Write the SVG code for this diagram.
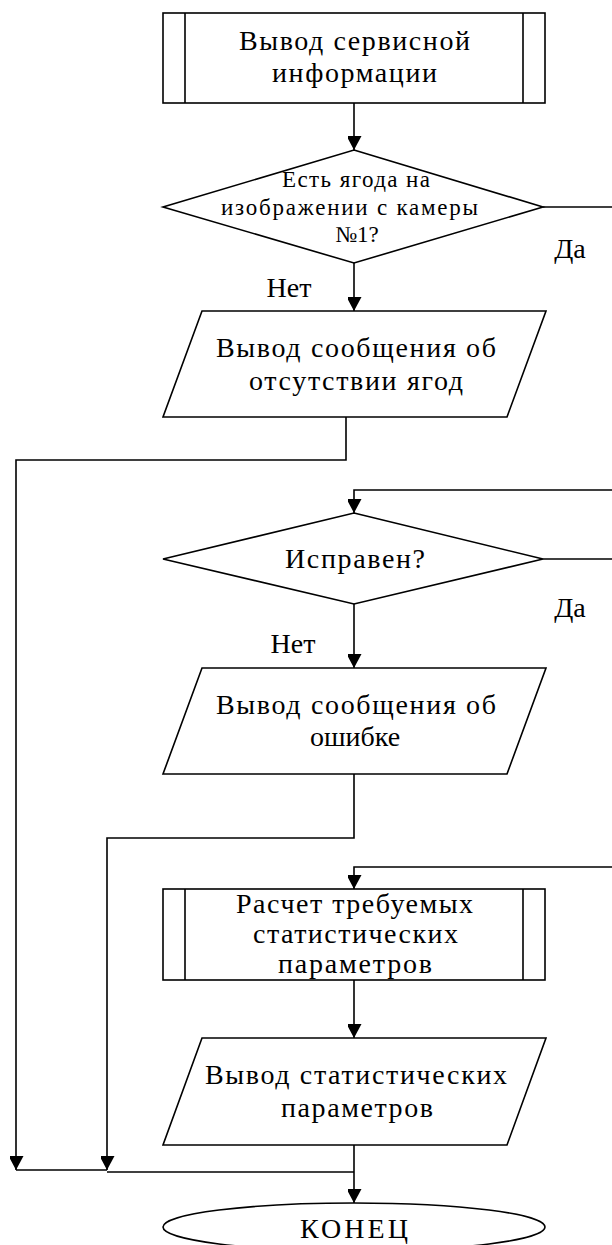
<svg xmlns="http://www.w3.org/2000/svg" width="612" height="1245" viewBox="0 0 612 1245">
<style>
.s{fill:#fff;stroke:#000;stroke-width:1.6}
.c{fill:none;stroke:#000;stroke-width:1.6}
.t{font-family:"Liberation Serif","Times New Roman",serif;font-size:28px;fill:#000;text-anchor:middle}
.sm{font-size:23px}
</style>
<defs>
<marker id="ah" markerUnits="userSpaceOnUse" markerWidth="16" markerHeight="14" refX="14" refY="7.5" orient="auto">
<path d="M0,0 L14,7.5 L0,15 Z" fill="#000"/>
</marker>
</defs>
<g id="connectors">
<path class="c" d="M354,103 V150" marker-end="url(#ah)"/>
<path class="c" d="M543,207 H612"/>
<path class="c" d="M354,263 V311" marker-end="url(#ah)"/>
<path class="c" d="M346,417 V460 H16 V1170" marker-end="url(#ah)"/>
<path class="c" d="M612,490 H354 V513" marker-end="url(#ah)"/>
<path class="c" d="M543,559 H612"/>
<path class="c" d="M354,604 V668" marker-end="url(#ah)"/>
<path class="c" d="M354,774 V838 H107 V1170" marker-end="url(#ah)"/>
<path class="c" d="M612,867 H354 V889" marker-end="url(#ah)"/>
<path class="c" d="M354,980 V1038" marker-end="url(#ah)"/>
<path class="c" d="M354,1145 V1203" marker-end="url(#ah)"/>
<path class="c" d="M16,1170 H107"/>
<path class="c" d="M107,1172 H354"/>
<text class="t" x="570" y="258">Да</text>
<text class="t" x="289" y="297">Нет</text>
<text class="t" x="570" y="617">Да</text>
<text class="t" x="293" y="653">Нет</text>
</g>
<g id="n1">
<rect class="s" x="163" y="13" width="382" height="90"/>
<path class="c" d="M185,13 V103 M523,13 V103"/>
<text class="t" x="354.5" y="50" textLength="231">Вывод сервисной</text>
<text class="t" x="354.5" y="82" textLength="165">информации</text>
</g>
<g id="d1">
<polygon class="s" points="354,150 543,207 354,263 163,207"/>
<text class="t sm" x="356" y="187" textLength="148">Есть ягода на</text>
<text class="t sm" x="349.5" y="215" textLength="257">изображении с камеры</text>
<text class="t sm" x="357" y="242">№1?</text>
</g>
<g id="p1">
<polygon class="s" points="202,311 546,311 507,417 163,417"/>
<text class="t" x="356" y="357" textLength="280">Вывод сообщения об</text>
<text class="t" x="356" y="390" textLength="214">отсутствии ягод</text>
</g>
<g id="d2">
<polygon class="s" points="354,513 543,559 354,604 163,559"/>
<text class="t" x="355" y="568" textLength="140">Исправен?</text>
</g>
<g id="p2">
<polygon class="s" points="202,668 546,668 507,774 163,774"/>
<text class="t" x="356" y="714" textLength="280">Вывод сообщения об</text>
<text class="t" x="355" y="746">ошибке</text>
</g>
<g id="n2">
<rect class="s" x="163" y="889" width="382" height="91"/>
<path class="c" d="M185,889 V980 M523,889 V980"/>
<text class="t" x="354.5" y="913" textLength="237">Расчет требуемых</text>
<text class="t" x="355.5" y="943" textLength="205">статистических</text>
<text class="t" x="355" y="973" textLength="154">параметров</text>
</g>
<g id="p3">
<polygon class="s" points="202,1038 546,1038 507,1145 163,1145"/>
<text class="t" x="356" y="1084" textLength="302">Вывод статистических</text>
<text class="t" x="357" y="1117" textLength="152">параметров</text>
</g>
<g id="end">
<ellipse class="s" cx="354" cy="1227" rx="191" ry="24"/>
<text class="t" x="354" y="1238" textLength="108">КОНЕЦ</text>
</g>
</svg>
